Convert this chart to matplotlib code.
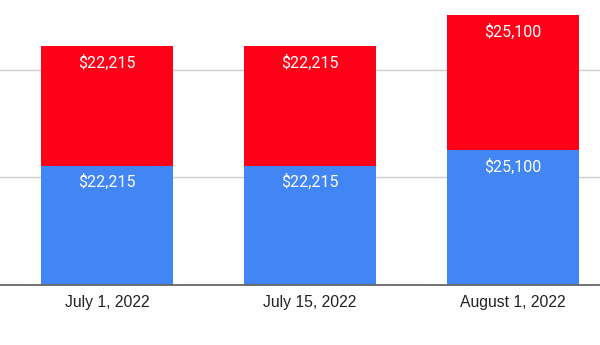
import matplotlib.pyplot as plt
import numpy as np

# data
dates = ['July 1, 2022', 'July 15, 2022', 'August 1, 2022']
blue_vals = [22215, 22215, 25100]
red_vals = [22215, 22215, 25100]

BLUE = '#4285f4'
RED = '#ff0019'

fig = plt.figure(figsize=(6, 3.45), dpi=100)
ax = fig.add_axes([0, 60 / 345, 1, 285 / 345])

x = np.arange(len(dates))
width = 0.65

ax.bar(x, blue_vals, width, color=BLUE, zorder=2)
ax.bar(x, red_vals, width, bottom=blue_vals, color=RED, zorder=2)

# value labels just inside the top of each segment
off = 3100
for i in range(len(dates)):
    ax.text(x[i], blue_vals[i] - off, f'${blue_vals[i]:,}', ha='center', va='center',
            color='white', fontsize=11.5, family='Roboto', zorder=3)
    top = blue_vals[i] + red_vals[i]
    ax.text(x[i], top - off, f'${red_vals[i]:,}', ha='center', va='center',
            color='white', fontsize=11.5, family='Roboto', zorder=3)

ax.set_xlim(-0.527, 2.428)
ax.set_ylim(0, 53000)
ax.set_yticks([20000, 40000])
ax.yaxis.grid(True, color='#cccccc', linewidth=1, zorder=0)
ax.tick_params(axis='y', left=False, labelleft=False)

ax.set_xticks(x)
ax.set_xticklabels(dates, family='Liberation Sans', fontsize=11.3, color='#222222')
ax.tick_params(axis='x', length=0, pad=7)

for s in ['top', 'right', 'left']:
    ax.spines[s].set_visible(False)
ax.spines['bottom'].set_color('#666666')
ax.spines['bottom'].set_linewidth(1.3)
ax.spines['bottom'].set_zorder(4)

fig.savefig('out.png', dpi=100)
